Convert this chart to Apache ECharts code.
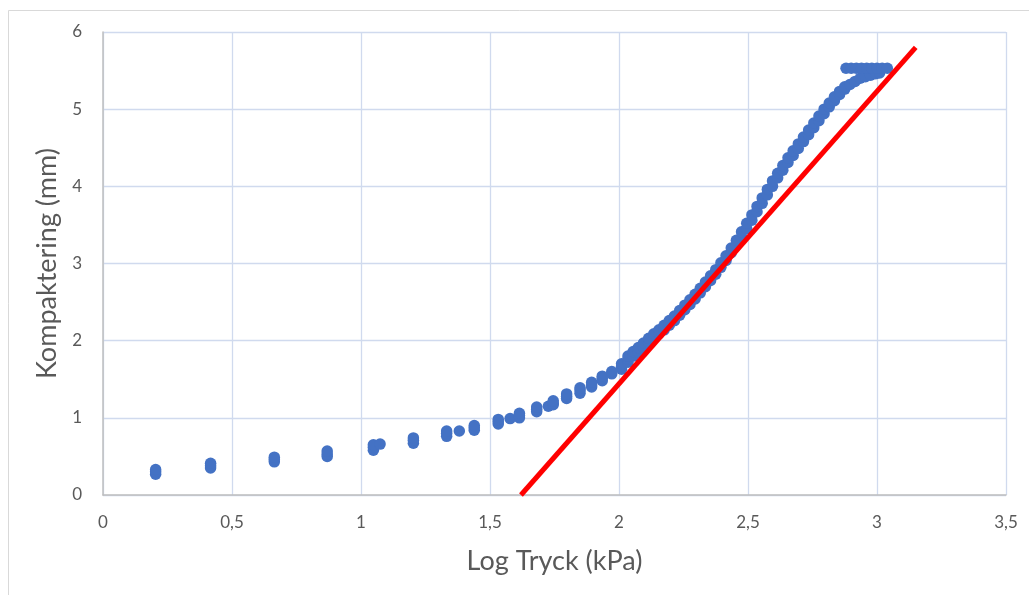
<!DOCTYPE html>
<html>
<head>
<meta charset="utf-8">
<script src="https://cdn.jsdelivr.net/npm/echarts@6/dist/echarts.min.js"></script>
<style>
html,body{margin:0;padding:0;background:#fff;}
#chart{width:1029px;height:595px;}
</style>
</head>
<body>
<div id="chart"></div>
<script>
// Discrete clusters at low pressure: [log pressure, compaction]
const clusterPoints = [
  [0.204,0.27],[0.204,0.30],[0.204,0.33],
  [0.417,0.35],[0.417,0.38],[0.417,0.41],
  [0.664,0.43],[0.664,0.46],[0.664,0.49],
  [0.869,0.50],[0.869,0.53],[0.869,0.57],
  [1.048,0.58],[1.048,0.62],[1.048,0.65],[1.074,0.66],
  [1.203,0.67],[1.203,0.71],[1.203,0.74],
  [1.332,0.76],[1.332,0.80],[1.332,0.83],[1.381,0.83],
  [1.439,0.84],[1.439,0.87],[1.439,0.90],
  [1.532,0.92],[1.532,0.95],[1.532,0.98],[1.578,0.99],
  [1.614,1.00],[1.614,1.03],[1.614,1.06],
  [1.681,1.08],[1.681,1.11],[1.681,1.14],[1.726,1.15],
  [1.745,1.17],[1.745,1.19],[1.745,1.22],
  [1.797,1.25],[1.797,1.28],[1.797,1.31],
  [1.849,1.32],[1.849,1.36],[1.849,1.39],
  [1.894,1.40],[1.894,1.43],[1.894,1.46],
  [1.935,1.48],[1.935,1.51],[1.935,1.54],
  [1.972,1.57],[1.972,1.60],
  [2.010,1.63],[2.010,1.67],[2.010,1.70],
  [2.035,1.72],[2.035,1.76],[2.035,1.80]
];
// Dense band of readings
const bandPoints = [
  [2.055,1.80],[2.055,1.86],[2.075,1.85],[2.075,1.91],[2.095,1.91],[2.095,1.97],
  [2.115,1.97],[2.115,2.03],[2.135,2.03],[2.135,2.09],[2.155,2.09],[2.155,2.14],
  [2.175,2.14],[2.175,2.20],[2.195,2.20],[2.195,2.26],[2.215,2.26],[2.215,2.32],
  [2.235,2.33],[2.235,2.39],[2.255,2.40],[2.255,2.46],[2.275,2.47],[2.275,2.53],
  [2.295,2.54],[2.295,2.60],[2.315,2.62],[2.315,2.68],[2.335,2.70],[2.335,2.76],
  [2.355,2.78],[2.355,2.84],[2.375,2.86],[2.375,2.92],[2.395,2.95],[2.395,3.01],
  [2.415,3.04],[2.415,3.10],[2.435,3.14],[2.435,3.20],[2.455,3.24],[2.455,3.30],
  [2.475,3.34],[2.475,3.41],[2.495,3.45],[2.495,3.52],[2.515,3.56],[2.515,3.63],
  [2.535,3.67],[2.535,3.74],[2.555,3.78],[2.555,3.85],[2.575,3.89],[2.575,3.96],
  [2.595,4.00],[2.595,4.07],[2.615,4.11],[2.615,4.17],[2.635,4.21],[2.635,4.27],
  [2.655,4.31],[2.655,4.37],[2.675,4.40],[2.675,4.46],[2.695,4.49],[2.695,4.55],
  [2.715,4.58],[2.715,4.64],[2.735,4.67],[2.735,4.73],[2.755,4.76],[2.755,4.82],
  [2.775,4.85],[2.775,4.91],[2.795,4.94],[2.795,5.00],[2.815,5.03],[2.815,5.08],
  [2.835,5.11],[2.835,5.16],[2.855,5.19],[2.855,5.23],[2.875,5.26],[2.875,5.29],
  [2.895,5.32],[2.915,5.36],[2.935,5.40],[2.955,5.42],[2.975,5.44],[2.995,5.46],[3.010,5.47]
];
// Final plateau readings
const plateauPoints = [
  [2.88,5.53],[2.90,5.53],[2.92,5.53],[2.94,5.53],[2.96,5.53],
  [2.98,5.53],[3.00,5.53],[3.02,5.53],[3.04,5.53]
];
// Red fitted line endpoints
const fitLine = [[1.62,0],[3.15,5.8]];
// Axis settings
const xRange = {min:0, max:3.5, interval:0.5};
const yRange = {min:0, max:6, interval:1};
const xTitle = 'Log Tryck (kPa)';
const yTitle = 'Kompaktering (mm)';

const allPoints = clusterPoints.concat(bandPoints, plateauPoints);
const font = 'Lato, "Open Sans", sans-serif';
const chart = echarts.init(document.getElementById('chart'), null, {renderer:'canvas'});
chart.setOption({
  animation:false,
  backgroundColor:'#ffffff',
  graphic:[{
    type:'rect', left:6, top:8, silent:true,
    shape:{x:0.5,y:0.5,width:1100,height:700},
    style:{fill:'none', stroke:'#D9D9D9', lineWidth:1}
  }],
  grid:{left:103, right:23, top:32, bottom:100},
  xAxis:{
    type:'value', min:xRange.min, max:xRange.max, interval:xRange.interval,
    name:xTitle, nameLocation:'middle', nameGap:53,
    nameTextStyle:{fontFamily:font, fontSize:27, color:'#595959'},
    axisLine:{show:true, onZero:false, lineStyle:{color:'#BFBFBF', width:1.5}},
    axisTick:{show:false},
    axisLabel:{fontFamily:font, fontSize:17, color:'#595959', margin:19,
      formatter:v=>String(v).replace('.',',')},
    splitLine:{show:true, lineStyle:{color:'#D0DAEE', width:1.3}}
  },
  yAxis:{
    type:'value', min:yRange.min, max:yRange.max, interval:yRange.interval,
    name:yTitle, nameLocation:'middle', nameGap:42, nameRotate:90,
    nameTextStyle:{fontFamily:font, fontSize:27, color:'#595959'},
    axisLine:{show:true, lineStyle:{color:'#BFBFBF', width:1.5}},
    axisTick:{show:false},
    axisLabel:{fontFamily:font, fontSize:17, color:'#595959', margin:21},
    splitLine:{show:true, lineStyle:{color:'#D0DAEE', width:1.3}}
  },
  series:[
    {type:'scatter', data:allPoints, symbol:'circle', symbolSize:11.5,
     itemStyle:{color:'#4472C4', opacity:1}, z:2},
    {type:'line', data:fitLine, symbol:'none',
     lineStyle:{color:'#FF0000', width:5}, z:3}
  ]
});
</script>
</body>
</html>
